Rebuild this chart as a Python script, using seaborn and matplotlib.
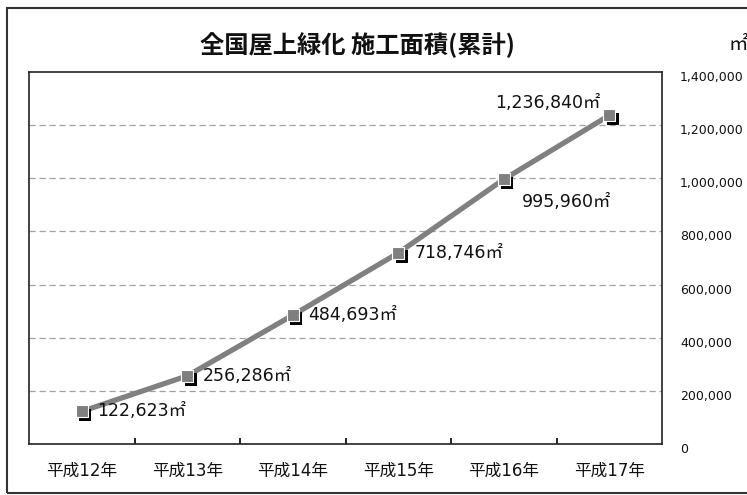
import matplotlib
matplotlib.use("Agg")
import matplotlib.pyplot as plt
import matplotlib.transforms as mtransforms
from matplotlib.patches import Rectangle
from matplotlib.ticker import FuncFormatter, FixedLocator
import seaborn as sns
import pandas as pd

years = ["平成12年", "平成13年", "平成14年", "平成15年", "平成16年", "平成17年"]
area = [122623, 256286, 484693, 718746, 995960, 1236840]
y_ticks = [0, 200000, 400000, 600000, 800000, 1000000, 1200000, 1400000]
title = "全国屋上緑化 施工面積(累計)"
unit = "㎡"

sns.set_style("white")
FAM = ["DejaVu Sans", "Noto Sans CJK JP"]
plt.rcParams["font.family"] = FAM

df = pd.DataFrame({"year": years, "area": area})

fig = plt.figure(figsize=(7.47, 4.95), dpi=100)
ax = fig.add_axes([29/747, 1-444/495, (662-29)/747, (444-72)/495])

# line
sns.lineplot(data=df, x="year", y="area", ax=ax, color="#808080", lw=3.8,
             sort=False, zorder=3)
# shadow of markers
shadow = mtransforms.offset_copy(ax.transData, fig=fig, x=2.5, y=-2.5, units="points")
sns.scatterplot(data=df, x="year", y="area", ax=ax, marker="s", s=80,
                color="black", edgecolor="none", transform=shadow, zorder=4)
# markers
sns.scatterplot(data=df, x="year", y="area", ax=ax, marker="s", s=85,
                color="#7f7f7f", edgecolor="white", linewidth=0.8, zorder=5)

# labels
offsets = [(11, 0, "left"), (11, 0, "left"), (11, 0, "left"),
           (12, 0, "left"), (13, -16, "left"), (-6, 9, "right")]
for i, (v, (dx, dy, ha)) in enumerate(zip(area, offsets)):
    ax.annotate(f"{v:,}{unit}", xy=(i, v), xytext=(dx, dy), textcoords="offset points",
                ha=ha, va="center", fontsize=12.5, color="#111111", zorder=6, family=FAM)

ax.set_xlim(-0.5, len(years) - 0.5)
ax.set_ylim(0, 1400000)
ax.set_xlabel("")
ax.set_ylabel("")

ax.yaxis.tick_right()
ax.set_yticks(y_ticks)
ax.yaxis.set_major_formatter(FuncFormatter(lambda v, p: f"{int(v):,}"))
ax.tick_params(axis="y", length=0, pad=13, labelsize=9, labelcolor="#111111")
for lab in ax.get_yticklabels():
    lab.set_horizontalalignment("left")
    lab.set_transform(lab.get_transform() + mtransforms.ScaledTranslation(0, -4/100, fig.dpi_scale_trans))

ax.xaxis.set_minor_locator(FixedLocator([i + 0.5 for i in range(len(years) - 1)]))
ax.tick_params(axis="x", which="major", length=0, pad=13, labelsize=12, labelcolor="#111111")
ax.tick_params(axis="x", which="minor", length=4, width=1.2, direction="in", color="black", bottom=True)

for yv in y_ticks[1:-1]:
    ax.axhline(yv, color="#a0a0a0", lw=0.9, ls=(0, (5, 3)), zorder=1)

for s in ax.spines.values():
    s.set_visible(True)
    s.set_color("#222222")
    s.set_linewidth(1.2)

fig.text(358/747, 1-45/495, title, ha="center", va="center", fontsize=17.5, fontweight="bold",
         color="#111111", family=["Noto Sans CJK JP", "DejaVu Sans"])
fig.text(738/747, 1-45/495, unit, ha="center", va="center", fontsize=14, color="#111111",
         family=["Noto Sans CJK JP", "DejaVu Sans"])

fig.patches.append(Rectangle((7/747, 2/495), 1.0, (493-8)/495, transform=fig.transFigure,
                             fill=False, edgecolor="#333333", lw=1.5, clip_on=False))

fig.savefig("out.png", dpi=100)
